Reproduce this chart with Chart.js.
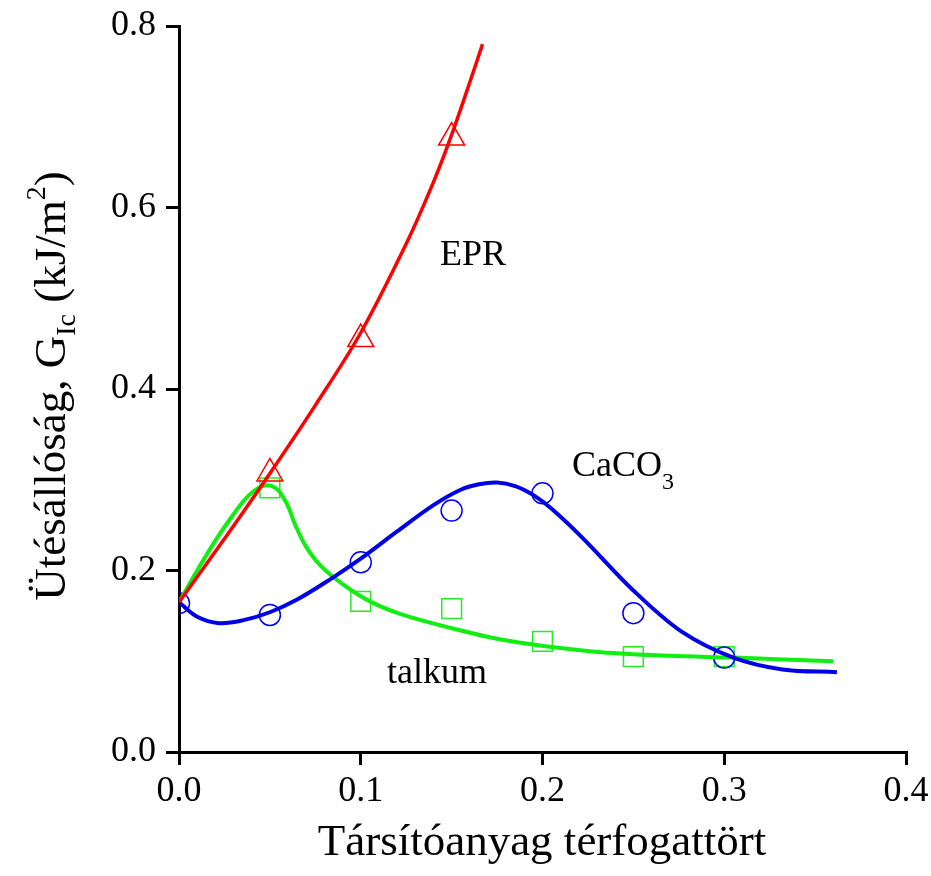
<!DOCTYPE html>
<html lang="hu">
  <head>
    <meta charset="UTF-8" />
    <script src="https://cdn.jsdelivr.net/npm/chart.js"></script>
    <title>Ütésállóság</title>
    <style>
      body { margin: 0; background: #fff; }
      #wrap { width: 931px; height: 876px; }
    </style>
  </head>
  <body>
    <div id="wrap"><canvas id="myChart" width="931" height="876"></canvas></div>
    <script>
      // measured points (markers)
      var eprX = [0.05, 0.1, 0.15];
      var eprY = [0.307, 0.455, 0.677];
      var caco3X = [0, 0.05, 0.1, 0.15, 0.2, 0.25, 0.3];
      var caco3Y = [0.164, 0.151, 0.209, 0.266, 0.285, 0.153, 0.104];
      var talkX = [0.05, 0.1, 0.15, 0.2, 0.25, 0.3];
      var talkY = [0.291, 0.166, 0.158, 0.122, 0.105, 0.105];

      // fitted curves
      var eprFitX = [0, 0.025, 0.05, 0.075, 0.1, 0.125, 0.14, 0.15, 0.16, 0.167];
      var eprFitY = [0.165, 0.235, 0.307, 0.382, 0.462, 0.56, 0.628, 0.68, 0.738, 0.78];
      var caco3FitX = [0, 0.01, 0.022, 0.035, 0.05, 0.065, 0.083, 0.1, 0.12, 0.14, 0.155, 0.165, 0.175, 0.185, 0.195, 0.205, 0.222, 0.25, 0.277, 0.305, 0.332, 0.362];
      var caco3FitY = [0.165, 0.149, 0.142, 0.145, 0.154, 0.168, 0.19, 0.213, 0.243, 0.272, 0.289, 0.295, 0.297, 0.293, 0.283, 0.268, 0.236, 0.178, 0.132, 0.104, 0.091, 0.088];
      var talkFitX = [0, 0.01, 0.02, 0.03, 0.038, 0.046, 0.053, 0.059, 0.064, 0.07, 0.078, 0.09, 0.105, 0.122, 0.149, 0.177, 0.204, 0.232, 0.27, 0.305, 0.36];
      var talkFitY = [0.165, 0.2, 0.233, 0.262, 0.282, 0.293, 0.291, 0.275, 0.25, 0.226, 0.205, 0.185, 0.166, 0.152, 0.137, 0.124, 0.116, 0.11, 0.106, 0.104, 0.1];

      var xTicks = [0, 0.1, 0.2, 0.3, 0.4];
      var yTicks = [0, 0.2, 0.4, 0.6, 0.8];

      var RED = "#ff0000", BLUE = "#0000e6", GREEN = "#11ee11";
      var SERIF = "'Liberation Serif', 'Times New Roman', serif";

      function pts(xs, ys) {
        return xs.map(function (x, i) { return { x: x, y: ys[i] }; });
      }
      function curve(xs, ys, color, w) {
        return {
          data: pts(xs, ys), showLine: true, borderColor: color, borderWidth: w,
          pointRadius: 0, tension: 0.35, fill: false
        };
      }
      function marks(xs, ys, color, style, r) {
        return {
          data: pts(xs, ys), showLine: false, pointStyle: style, pointRadius: r,
          pointBorderColor: color, pointBackgroundColor: "rgba(0,0,0,0)", pointBorderWidth: 1.5
        };
      }

      // axis titles + curve labels
      var textPlugin = {
        id: "texts",
        afterDraw: function (chart) {
          var c = chart.ctx, xs = chart.scales.x, ys = chart.scales.y;
          c.save();
          c.fillStyle = "#000";
          c.textBaseline = "alphabetic";

          c.font = "36px " + SERIF;
          c.textAlign = "left";
          c.fillText("EPR", xs.getPixelForValue(0.1436), ys.getPixelForValue(0.5366));
          var cx = xs.getPixelForValue(0.2162), cy = ys.getPixelForValue(0.3041);
          c.fillText("CaCO", cx, cy);
          var w = c.measureText("CaCO").width;
          c.font = "24px " + SERIF;
          c.fillText("3", cx + w, cy + 13);
          c.font = "36px " + SERIF;
          c.fillText("talkum", xs.getPixelForValue(0.1144), ys.getPixelForValue(0.076));

          c.font = "45px " + SERIF;
          c.textAlign = "center";
          c.fillText("Társítóanyag térfogattört", 542, 855);

          // y title with sub/superscript
          var parts = [
            ["Ütésállóság, G", 45, 0],
            ["Ic", 28, 10],
            [" (kJ/m", 45, 0],
            ["2", 28, -20],
            [")", 45, 0]
          ];
          var total = 0;
          parts.forEach(function (p) { c.font = p[1] + "px " + SERIF; total += c.measureText(p[0]).width; });
          c.translate(65, 386);
          c.rotate(-Math.PI / 2);
          c.textAlign = "left";
          var x = -total / 2;
          parts.forEach(function (p) {
            c.font = p[1] + "px " + SERIF;
            c.fillText(p[0], x, p[2]);
            x += c.measureText(p[0]).width;
          });
          c.restore();
        }
      };

      var axisCommon = {
        type: "linear",
        border: { display: true, color: "#000", width: 3 },
        grid: { display: true, drawOnChartArea: false, drawTicks: true, tickLength: 13, color: "#000", lineWidth: 3 },
        title: { display: false }
      };

      var ctx = document.getElementById("myChart");
      var myChart = new Chart(ctx, {
        type: "scatter",
        data: {
          datasets: [
            curve(eprFitX, eprFitY, RED, 3.5),
            curve(caco3FitX, caco3FitY, BLUE, 4),
            curve(talkFitX, talkFitY, GREEN, 4),
            marks(eprX, eprY, RED, "triangle", 15),
            marks(caco3X, caco3Y, "#0000ff", "circle", 10.5),
            marks(talkX, talkY, "#22ee22", "rect", 14)
          ]
        },
        options: {
          responsive: false,
          animation: false,
          layout: { padding: { left: 0, top: 26, right: 25, bottom: 0 } },
          plugins: { legend: { display: false }, tooltip: { enabled: false } },
          scales: {
            x: Object.assign({}, axisCommon, {
              min: 0, max: 0.4,
              afterBuildTicks: function (s) { s.ticks = xTicks.map(function (v) { return { value: v }; }); },
              afterFit: function (s) { s.height = 124; s.paddingLeft = 0; s.paddingRight = 0; },
              ticks: {
                color: "#000", padding: 5, maxRotation: 0,
                font: { family: SERIF, size: 36 },
                callback: function (v) { return v.toFixed(1); }
              }
            }),
            y: Object.assign({}, axisCommon, {
              min: 0, max: 0.8,
              afterBuildTicks: function (s) { s.ticks = yTicks.map(function (v) { return { value: v }; }); },
              afterFit: function (s) { s.width = 179; s.paddingTop = 0; s.paddingBottom = 0; },
              ticks: {
                color: "#000", padding: 10,
                font: { family: SERIF, size: 36 },
                callback: function (v) { return v.toFixed(1); }
              }
            })
          }
        },
        plugins: [textPlugin]
      });
    </script>
  </body>
</html>
